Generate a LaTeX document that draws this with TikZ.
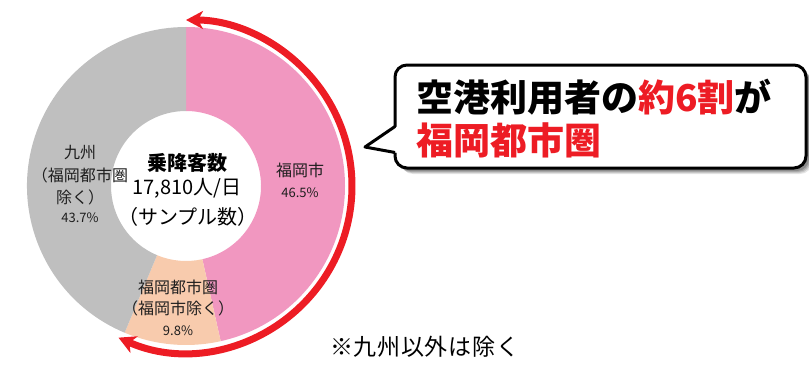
\documentclass[tikz,border=0pt]{standalone}
\usepackage{fontspec}
\setmainfont{Noto Sans CJK JP}
\usetikzlibrary{arrows.meta}
\definecolor{redc}{RGB}{237,28,36}
\definecolor{pinkc}{RGB}{241,151,192}
\definecolor{peachc}{RGB}{248,203,173}
\definecolor{grayc}{RGB}{191,191,191}
\definecolor{txt}{RGB}{30,30,30}
\begin{document}
\begin{tikzpicture}[x=1bp,y=1bp,
  lbl/.style={font=\fontsize{16bp}{18bp}\selectfont, text=txt, inner sep=0pt},
  pct/.style={font=\fontsize{13bp}{15bp}\selectfont, text=txt, inner sep=0pt},
  ctr/.style={font=\fontsize{20bp}{22bp}\selectfont, text=black, inner sep=0pt},
  big/.style={font=\fontsize{37bp}{40bp}\selectfont\bfseries, inner sep=0pt, anchor=west},
  redarrow/.style={redc, line width=7bp, {Stealth[length=17bp,width=18bp,inset=5bp]}-{Stealth[length=17bp,width=18bp,inset=5bp]}},
  bubbleline/.style={line width=3bp, line join=round},
]
\useasboundingbox (0,0) rectangle (809,366);
% donut
\begin{scope}[shift={(186,180)}]
  \fill[pinkc] (90:159) arc[start angle=90,end angle=-77.4,radius=159] -- (-77.4:75) arc[start angle=-77.4,end angle=90,radius=75] -- cycle;
  \fill[peachc] (-77.4:159) arc[start angle=-77.4,end angle=-112.7,radius=159] -- (-112.7:75) arc[start angle=-112.7,end angle=-77.4,radius=75] -- cycle;
  \fill[grayc] (-112.7:159) arc[start angle=-112.7,end angle=-270,radius=159] -- (90:75) arc[start angle=90,end angle=247.3,radius=75] -- cycle;
  \draw[redarrow] (-114:166) arc[start angle=-114,end angle=90,radius=166];
\end{scope}
% centre texts
\node[ctr, font=\fontsize{20bp}{22bp}\selectfont\bfseries] (total) at (187,203) {乗降客数};
\node[ctr] (num) at (187,178) {17,810人/日};
\node[ctr] (sample) at (188,149) {（サンプル数）};
% segment labels
\node[lbl] (fc) at (300,196) {福岡市};
\node[pct] (fcp) at (300,173) {46.5\%};
\node[lbl] (ky1) at (80,213) {九州};
\node[lbl] (ky2) at (80,191) {（福岡都市圏};
\node[lbl] (ky3) at (80,169) {除く）};
\node[pct] (kyp) at (80,148) {43.7\%};
\node[lbl] (fm1) at (178,79) {福岡都市圏};
\node[lbl] (fm2) at (178,58) {（福岡市除く）};
\node[pct] (fmp) at (178,35) {9.8\%};
% callout shadow
\foreach \d/\o in {6/0.10,5/0.12,4/0.15,3/0.18}{
  \fill[black, opacity=\o, rounded corners=12bp] (395+\d,198-\d) rectangle (806+\d,301-\d);
}
% callout box
\draw[bubbleline, fill=white, rounded corners=12bp] (395,198) rectangle (806,301);
\fill[white] (398,240) -- (365,219) -- (398,213) -- cycle;
\draw[bubbleline] (395,239.5) -- (365,219) -- (395,213.5);
\node[big] (line1) at (416,269) {空港利用者の\textcolor{redc}{約6割}が};
\node[big, text=redc] (line2) at (416,226) {福岡都市圏};
% footnote
\node[anchor=west, inner sep=0pt, font=\fontsize{23bp}{25bp}\selectfont\addfontfeature{LetterSpace=3}] (note) at (330,19) {※九州以外は除く};
\end{tikzpicture}
\end{document}
